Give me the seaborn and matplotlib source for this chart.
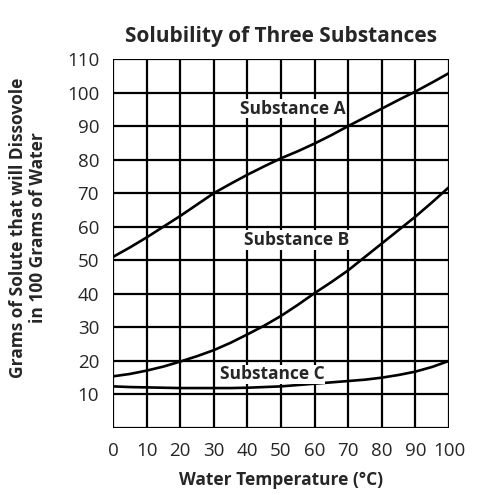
import numpy as np
import pandas as pd
import matplotlib
matplotlib.use('Agg')
import matplotlib.pyplot as plt
import seaborn as sns

sns.set_style("white")
plt.rcParams['font.family'] = ['Open Sans', 'DejaVu Sans']

# 수온 (°C)
temps = [0, 5, 10, 15, 20, 25, 30, 35, 40, 45, 50, 55, 60, 65, 70, 75, 80, 85, 90, 95, 100]

# 물 100 g 당 용해량 (g)
sub_a = [51, 53.8, 56.8, 60, 63.2, 66.6, 70, 72.8, 75.5, 78, 80.4, 82.5, 84.8, 87.3, 90, 92.6, 95.2, 97.8, 100.3, 103, 105.8]
sub_b = [15.4, 16.1, 17.1, 18.3, 19.8, 21.4, 23.2, 25.4, 27.9, 30.5, 33.4, 36.7, 40.2, 43.5, 47, 51, 55, 59, 63, 67.3, 71.8]
sub_c = [12.4, 12.2, 12.1, 12, 11.9, 11.9, 11.9, 11.9, 12, 12.2, 12.4, 12.8, 13.2, 13.6, 14, 14.4, 15, 15.8, 16.8, 18.2, 20]

labels = ['Substance A', 'Substance B', 'Substance C']
label_pos = [(53.5, 95.2), (54.8, 56), (47.3, 16)]

x_ticks = list(range(0, 101, 10))
y_ticks = list(range(0, 111, 10))
y_ticklabels = [''] + [str(v) for v in y_ticks[1:]]

df = pd.DataFrame({
    'Temp': temps * 3,
    'Solubility': sub_a + sub_b + sub_c,
    'Substance': sum([[name] * len(temps) for name in labels], []),
})

fig = plt.figure(figsize=(4.9, 4.95), dpi=100)
ax = fig.add_axes([0.2306, 0.1354, 0.6857, 0.7454])

# 격자
for x in x_ticks:
    ax.axvline(x, color='black', linewidth=1.6, zorder=1)
for y in y_ticks:
    ax.axhline(y, color='black', linewidth=1.6, zorder=1)

sns.lineplot(data=df, x='Temp', y='Solubility', hue='Substance',
             palette=['black'] * 3, linewidth=1.9, legend=False, ax=ax, zorder=3)

for name, (lx, ly) in zip(labels, label_pos):
    ax.text(lx, ly, name, ha='center', va='center', fontsize=12.5, fontweight='bold',
            bbox=dict(facecolor='white', edgecolor='none', pad=0.5), zorder=4)

ax.set_xlim(0, 100)
ax.set_ylim(0, 110)
ax.set_xticks(x_ticks)
ax.set_yticks(y_ticks)
ax.set_yticklabels(y_ticklabels)
ax.tick_params(axis='both', direction='out', length=7, width=1.6, color='black',
               labelsize=13.5, pad=3)
for s in ax.spines.values():
    s.set_visible(False)

ax.set_xlabel('Water Temperature (°C)', fontsize=12.5, fontweight='bold', labelpad=8)
ax.set_ylabel('Grams of Solute that will Dissovole\nin 100 Grams of Water', fontsize=12.5,
              fontweight='bold', linespacing=1.15)
ax.yaxis.set_label_coords(-0.195, 0.542)
ax.set_title('Solubility of Three Substances', fontsize=15, fontweight='bold', pad=12)

fig.savefig('out.png', dpi=100)
